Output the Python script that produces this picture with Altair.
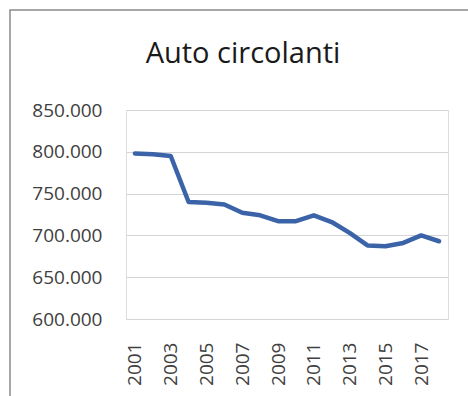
import altair as alt
import pandas as pd

years = [str(y) for y in range(2001, 2019)]
cars = [798000, 797000, 795000, 740000, 739000, 737000, 727000, 724000, 717000,
        717000, 724000, 716000, 703000, 688000, 687000, 691000, 700000, 693000]
label_years = [str(y) for y in range(2001, 2019, 2)]
y_ticks = [600000, 650000, 700000, 750000, 800000, 850000]

df = pd.DataFrame({"anno": years, "auto": cars})
FONT = "Open Sans"

line = alt.Chart(df).mark_line(
    color="#3b64a8", strokeWidth=4.5, strokeCap="round", strokeJoin="round"
).encode(
    x=alt.X("anno:O", sort=years,
            scale=alt.Scale(type="point", padding=0.5),
            axis=alt.Axis(title=None, values=label_years, labelAngle=-90,
                          labelFont=FONT, labelFontSize=19, labelColor="#404040",
                          ticks=False, domain=False, labelPadding=23, grid=False)),
    y=alt.Y("auto:Q",
            scale=alt.Scale(domain=[600000, 850000], nice=False, zero=False),
            axis=alt.Axis(title=None, values=y_ticks,
                          labelExpr="replace(format(datum.value, ',.0f'), ',', '.')",
                          labelFont=FONT, labelFontSize=19, labelColor="#404040",
                          ticks=False, domain=False, labelPadding=24,
                          grid=True, gridColor="#d4d4d4", gridWidth=1.2)),
)

frame = alt.Chart(alt.Data(values=[{}])).mark_rect(
    fill=None, stroke="#8a8a8a", strokeWidth=1.5
).encode(
    x=alt.value(-116), y=alt.value(-100), x2=alt.value(460), y2=alt.value(420)
)

chart = alt.layer(frame, line).properties(
    width=322, height=209,
    padding={"left": 126, "right": 20, "top": 110, "bottom": 77},
    autosize=alt.AutoSizeParams(type="none"),
    title=alt.TitleParams("Auto circolanti", font=FONT, fontSize=29,
                          fontWeight="normal", color="#1a1a1a",
                          anchor="middle", dx=-44, offset=-83,
                          baseline="alphabetic"),
).configure_view(stroke=None).configure(background="white")

chart.save("out.html", embed_options={"renderer": "svg", "actions": False})
